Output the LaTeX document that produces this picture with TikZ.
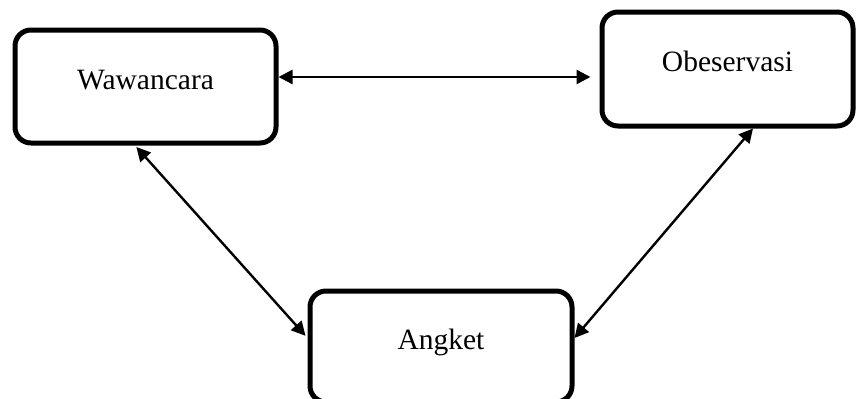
\documentclass[tikz,border=0pt]{standalone}
\usepackage{fontspec}
\setmainfont{Liberation Serif}
\usetikzlibrary{arrows.meta}
\begin{document}
\begin{tikzpicture}[x=1pt,y=-1pt,
  box/.style={draw, line width=5pt, rounded corners=16pt,
    font=\fontsize{29.5}{35}\selectfont,
    text height=20pt, text depth=15pt, inner sep=0pt},
  link/.style={line width=2.4pt,
    {Triangle[length=14pt,width=14pt]}-{Triangle[length=14pt,width=14pt]}}]
\useasboundingbox (0,0) rectangle (857,399);
% the three data-collection methods
\node[box, minimum width=261pt, minimum height=113pt] (waw) at (145.5,86.5) {Wawancara};
\node[box, minimum width=251pt, minimum height=114pt] (obs) at (727.5,69) {Obeservasi};
\node[box, minimum width=262pt, minimum height=111pt] (ang) at (441,346.5) {Angket};
% two-way links between them
\draw[link, shorten >=9pt] (waw.east |- 0,77) -- (obs.west |- 0,77);
\draw[link, shorten <=2pt, shorten >=3pt] (waw.south -| 135,0) -- (ang.west |- 0,338);
\draw[link] (obs.south -| 753,0) -- (ang.east |- 0,338);
\end{tikzpicture}
\end{document}
